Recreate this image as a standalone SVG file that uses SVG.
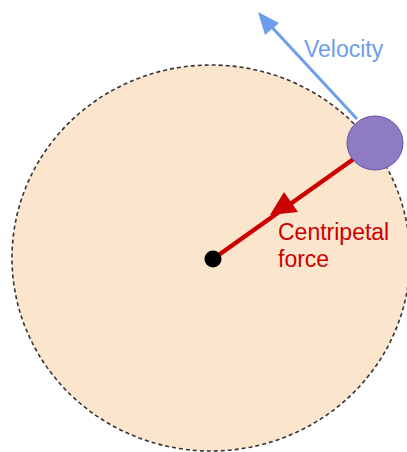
<svg xmlns="http://www.w3.org/2000/svg" width="407" height="452" viewBox="0 0 407 452">
<style>
.lbl{font-family:"Liberation Sans",Arial,sans-serif;font-size:23px}
</style>
<rect width="407" height="452" fill="#fff"/>
<g id="orbit">
<ellipse cx="211" cy="258" rx="199" ry="193" fill="#fce5cd" stroke="#333" stroke-width="1.6" stroke-dasharray="4,3"/>
</g>
<g id="connectors">
<line x1="355" y1="158" x2="213" y2="259" stroke="#cc0000" stroke-width="4.5"/>
<polygon points="270,215 298,212 284,192" fill="#cc0000"/>
<line x1="357" y1="119" x2="268" y2="23" stroke="#6d9eeb" stroke-width="3"/>
<polygon points="258,12 279,23 265,35" fill="#6d9eeb"/>
</g>
<g id="center">
<circle cx="213" cy="259" r="8.5" fill="#000"/>
</g>
<g id="ball">
<ellipse cx="375" cy="143" rx="28" ry="27" fill="#8e7cc3" stroke="#674ea7" stroke-width="1"/>
</g>
<g id="labels">
<text class="lbl" x="304" y="57" fill="#6d9eeb">Velocity</text>
<text class="lbl" x="278" y="240" fill="#cc0000">Centripetal</text>
<text class="lbl" x="278" y="267" fill="#cc0000">force</text>
</g>
</svg>
